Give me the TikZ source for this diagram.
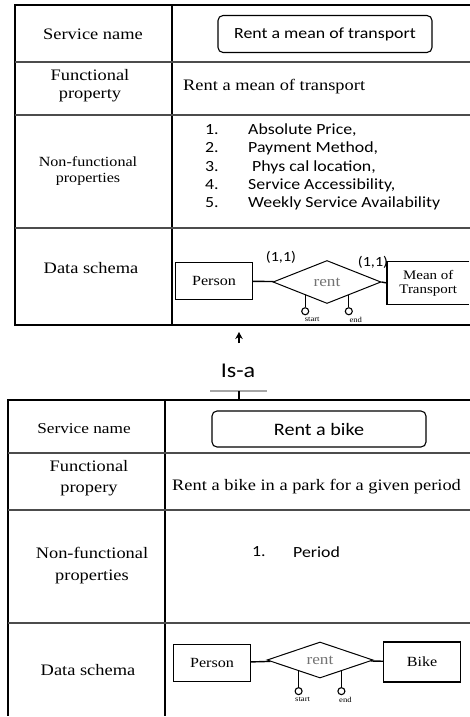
\documentclass[tikz,border=0pt]{standalone}
\usepackage{fontspec}
\setmainfont{Liberation Serif}[FakeStretch=1.15]
\newfontfamily\calfont{Carlito}[FakeStretch=1.15]
\usepackage{tikz}
\usetikzlibrary{arrows.meta, positioning, shapes.geometric, calc}

\begin{document}
\begin{tikzpicture}[x=1pt, y=-1pt,
  frame/.style={line width=1.7pt},
  rowline/.style={line width=1.3pt, black!70},
  rowlabel/.style={font=\fontsize{16}{18}\selectfont, align=center, inner sep=0pt},
  namebox/.style={draw, rounded corners=5pt, line width=1.1pt, font=\calfont\fontsize{15.5}{17}\selectfont, minimum width=214pt, minimum height=37pt},
  item/.style={font=\calfont\fontsize{15.5}{17}\selectfont, anchor=west, inner sep=0pt},
  entity/.style={draw, line width=1.1pt, font=\fontsize{14}{15}\selectfont, minimum width=77pt, minimum height=37pt, inner sep=1pt},
  relation/.style={diamond, draw, line width=1pt, inner sep=0pt, minimum width=108pt, minimum height=43pt, text=black!55, font=\fontsize{15}{16}\selectfont},
  attr/.style={circle, draw, line width=1.1pt, inner sep=0pt, minimum size=7pt},
  attrlabel/.style={font=\fontsize{7.5}{8}\selectfont, inner sep=0pt},
  card/.style={font=\calfont\fontsize{14}{15}\selectfont, inner sep=0pt},
  link/.style={line width=1.4pt}]
\useasboundingbox (0,0) rectangle (469,717);

\draw[frame] (480,5) -- (15,5) -- (15,325) -- (480,325);
\draw[frame] (172,5) -- (172,325);
\draw[rowline] (15,62) -- (480,62);
\draw[rowline] (15,115) -- (480,115);
\draw[rowline] (15,228) -- (480,228);

\node[rowlabel] (sn1) at (93,34) {Service name};
\node[namebox] (box1) at (325,34) {Rent a mean of transport};
\node[rowlabel] (fp1) at (90,86) {Functional\\property};
\node[rowlabel, anchor=west] (fd1) at (183,87) {Rent a mean of transport};
\node[rowlabel, font=\fontsize{14}{16}\selectfont] (nf1) at (88,171) {Non-functional\\properties};
\node[item] (n1) at (205,130) {1.};
\node[item] (n2) at (205,148) {2.};
\node[item] (n3) at (205,167) {3.};
\node[item] (n4) at (205,185) {4.};
\node[item] (n5) at (205,203) {5.};
\node[item] (p1) at (248,130) {Absolute Price,};
\node[item] (p2) at (248,148) {Payment Method,};
\node[item] (p3) at (252,167) {Phys cal location,};
\node[item] (p4) at (248,185) {Service Accessibility,};
\node[item] (p5) at (248,203) {Weekly Service Availability};
\node[rowlabel] (ds1) at (91,268) {Data schema};

\node[entity] (person1) at (214,281) {Person};
\node[relation] (rent1) at (327,282) {rent};
\node[font=\fontsize{13}{14}\selectfont, align=center, minimum width=82pt, minimum height=43pt, anchor=west, inner sep=0pt] (mot1) at (387,283) {Mean of\\Transport};
\draw[line width=1.2pt] (mot1.north east) -- (mot1.north west) -- (mot1.south west) -- (mot1.south east);
\draw[link] (person1) -- (rent1);
\draw[link] (rent1.east) -- (mot1.west);
\node[card] (c1a) at (281,257) {(1,1)};
\node[card] (c1b) at (373,262) {(1,1)};
\coordinate (s1) at ($(rent1.west)!0.6!(rent1.south)$);
\coordinate (e1) at ($(rent1.east)!0.6!(rent1.south)$);
\node[attr, below=12pt of s1] (start1) {};
\node[attr, below=12pt of e1] (end1) {};
\draw[line width=1.1pt] (s1) -- (start1);
\draw[line width=1.1pt] (e1) -- (end1);
\node[attrlabel, below=2pt of start1, xshift=7pt] (sl1) {start};
\node[attrlabel, below=2pt of end1, xshift=7pt] (el1) {end};

\coordinate (foot) at (239,343);
\coordinate (tip) at (239,332);
\draw[-{Stealth[length=7pt,width=7.5pt]}, line width=1.5pt] (foot) -- (tip);
\node[font=\calfont\fontsize{21}{22}\selectfont] (isa) at (238,371) {Is-a};
\draw[black!35, line width=1.2pt] (210,391) -- (267,391);
\draw[line width=1.4pt] (239,391) -- (239,400);

\draw[frame] (480,400) -- (8,400) -- (8,716);
\draw[frame] (165,400) -- (165,716);
\draw[rowline] (8,453) -- (480,453);
\draw[rowline] (8,510) -- (480,510);
\draw[rowline] (8,623) -- (480,623);

\node[rowlabel, font=\fontsize{15}{17}\selectfont] (sn2) at (84,429) {Service name};
\node[namebox, minimum height=36pt, font=\calfont\fontsize{17.5}{19}\selectfont] (box2) at (319,429) {Rent a bike};
\node[rowlabel, font=\fontsize{16}{21}\selectfont] (fp2) at (89,478) {Functional\\propery};
\node[rowlabel, anchor=west] (fd2) at (172,487) {Rent a bike in a park for a given period};
\node[rowlabel, font=\fontsize{16}{22}\selectfont] (nf2) at (92,566) {Non-functional\\properties};
\node[item] (m1) at (252,552) {1.};
\node[item] (q1) at (293,552) {Period};
\node[rowlabel] (ds2) at (88,670) {Data schema};

\node[entity] (person2) at (212,663) {Person};
\node[relation, minimum height=36pt, minimum width=106pt] (rent2) at (320,660) {rent};
\node[entity, minimum height=40pt] (bike2) at (422,662) {Bike};
\draw[link] (person2) -- (rent2);
\draw[link] (rent2) -- (bike2);
\coordinate (s2) at ($(rent2.west)!0.6!(rent2.south)$);
\coordinate (e2) at ($(rent2.east)!0.6!(rent2.south)$);
\node[attr, below=16pt of s2] (start2) {};
\node[attr, below=16pt of e2] (end2) {};
\draw[line width=1.1pt] (s2) -- (start2);
\draw[line width=1.1pt] (e2) -- (end2);
\node[attrlabel, below=2pt of start2, xshift=4pt] (sl2) {start};
\node[attrlabel, below=2pt of end2, xshift=4pt] (el2) {end};
\end{tikzpicture}
\end{document}
